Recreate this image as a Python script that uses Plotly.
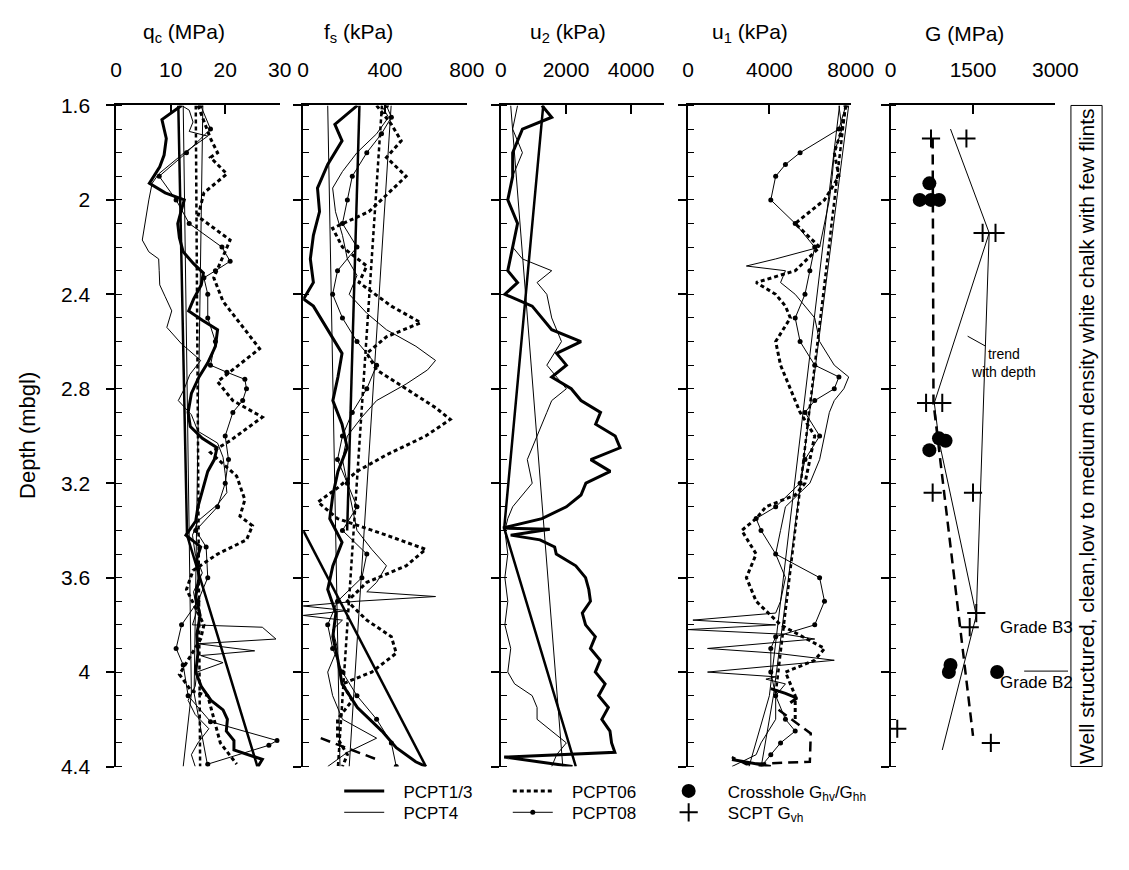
import plotly.graph_objects as go

W, H = 1129, 870
FONT = "Liberation Sans, Arial, sans-serif"


def px(x):
    """page x (pixels) -> paper fraction"""
    return x / W


def py(y):
    """page y (pixels, from top) -> paper fraction"""
    return 1 - y / H


# ---------------- depth axis ----------------
DEPTH_TICKS = [1.6, 2.0, 2.4, 2.8, 3.2, 3.6, 4.0, 4.4]
DEPTH_TICKTEXT = ["1.6", "2", "2.4", "2.8", "3.2", "3.6", "4", "4.4"]

# ---------------- panel 1: cone resistance qc (MPa) ----------------
qc13_d = [1.60, 1.66, 1.74, 1.81, 1.86, 1.93, 1.97, 2.00, 2.04, 2.10, 2.16, 2.22, 2.27, 2.31, 2.36, 2.42, 2.47,
          2.51, 2.55, 2.62, 2.69, 2.75, 2.82, 2.90, 2.96, 3.01, 3.05, 3.10, 3.15, 3.22, 3.30, 3.36, 3.42, 3.47,
          3.52, 3.60, 3.68, 3.76, 3.84, 3.92, 4.00, 4.06, 4.12, 4.16, 4.20, 4.25, 4.29, 4.33, 4.37, 4.40]
qc13 = [12.0, 8.4, 9.2, 8.8, 8.0, 6.1, 9.0, 12.5, 12.0, 11.3, 11.6, 12.3, 14.2, 16.0, 15.6, 14.2, 13.3,
        15.8, 18.6, 18.2, 16.8, 15.2, 13.8, 13.2, 13.6, 15.8, 18.5, 18.0, 16.8, 16.0, 15.0, 14.6, 12.8, 15.5,
        14.8, 15.2, 14.6, 15.4, 14.8, 15.0, 14.6, 15.6, 17.4, 19.6, 20.4, 20.2, 21.6, 21.6, 26.8, 26.0]

qc4_d = [1.60, 1.62, 1.67, 1.71, 1.73, 1.80, 1.89, 1.93, 2.00, 2.08, 2.17, 2.22, 2.25, 2.30, 2.36, 2.41, 2.47,
         2.54, 2.61, 2.68, 2.74, 2.80, 2.85, 2.91, 2.98, 3.03, 3.09, 3.16, 3.24, 3.29, 3.36, 3.42, 3.50, 3.58,
         3.66, 3.74, 3.80, 3.81, 3.86, 3.88, 3.91, 3.93, 3.96, 4.00, 4.06, 4.12, 4.18, 4.24, 4.30, 4.35, 4.40]
qc4 = [12.0, 13.4, 14.1, 13.4, 16.8, 12.5, 7.8, 6.6, 6.0, 5.4, 4.8, 6.0, 7.8, 7.9, 8.0, 9.0, 10.2,
       9.3, 12.0, 15.5, 13.5, 12.5, 11.4, 13.8, 15.0, 18.6, 19.6, 20.0, 20.3, 18.6, 15.0, 14.0, 14.5, 15.8,
       14.2, 14.8, 14.0, 26.8, 29.3, 15.0, 25.4, 15.5, 19.6, 14.8, 14.5, 13.2, 14.5, 17.0, 15.0, 13.8, 14.5]

qc06_d = [1.60, 1.74, 1.80, 1.82, 1.89, 1.97, 2.07, 2.17, 2.33, 2.43, 2.63, 2.77, 2.85, 2.92, 3.02, 3.07,
          3.17, 3.27, 3.34, 3.38, 3.44, 3.50, 3.57, 3.65, 3.80, 3.86, 4.01, 4.08, 4.10, 4.20, 4.30, 4.39]
qc06 = [15.0, 17.3, 18.6, 17.3, 20.3, 16.1, 15.0, 20.9, 17.9, 19.6, 26.3, 18.6, 21.4, 26.8, 20.9, 17.3,
        22.1, 23.6, 22.7, 25.0, 23.9, 18.6, 14.1, 12.9, 16.1, 15.5, 11.6, 13.8, 16.8, 17.9, 19.1, 22.1]

qc08_d = [1.60, 1.70, 1.80, 1.90, 2.00, 2.10, 2.20, 2.26, 2.30, 2.33, 2.40, 2.50, 2.60, 2.70, 2.73, 2.76,
          2.80, 2.85, 2.90, 3.00, 3.10, 3.20, 3.30, 3.40, 3.47, 3.60, 3.70, 3.80, 3.90, 3.97, 4.10, 4.21,
          4.29, 4.31, 4.39]
qc08 = [15.5, 17.3, 12.9, 7.9, 11.0, 13.4, 19.4, 20.9, 18.2, 16.1, 16.8, 16.8, 18.2, 17.3, 20.3, 23.6,
        23.9, 23.2, 21.4, 20.0, 20.6, 20.0, 18.6, 14.6, 16.5, 16.8, 15.0, 12.0, 11.0, 12.3, 13.2, 17.3,
        29.5, 28.0, 16.8]

qc_tr13_d, qc_tr13 = [1.6, 3.42, 4.4], [11.4, 13.0, 25.9]
qc_tr4_d, qc_tr4 = [1.6, 4.09, 4.4], [12.3, 13.8, 12.3]
qc_tr06_d, qc_tr06 = [1.6, 4.4], [14.6, 15.4]
qc_tr08_d, qc_tr08 = [1.6, 4.09, 4.4], [15.9, 14.3, 16.8]

# ---------------- panel 2: sleeve friction fs (kPa) ----------------
fs13_d = [1.60, 1.68, 1.75, 1.85, 1.95, 2.05, 2.15, 2.25, 2.35, 2.40, 2.42, 2.45, 2.55, 2.65, 2.75, 2.85,
          2.95, 3.05, 3.15, 3.25, 3.35, 3.45, 3.55, 3.65, 3.75, 3.85, 3.95, 4.05, 4.15, 4.25, 4.32, 4.38, 4.40]
fs13 = [265, 155, 190, 120, 70, 80, 50, 35, 50, 15, 2, 50, 120, 190, 170, 145,
        190, 215, 170, 145, 130, 190, 145, 120, 160, 145, 170, 190, 265, 385, 455, 550, 600]

fs4_d = [1.60, 1.65, 1.72, 1.80, 1.88, 1.95, 2.05, 2.15, 2.25, 2.32, 2.40, 2.48, 2.55, 2.62, 2.68, 2.72,
         2.78, 2.85, 2.92, 3.00, 3.10, 3.20, 3.30, 3.40, 3.48, 3.55, 3.62, 3.66, 3.68, 3.70, 3.72, 3.74,
         3.76, 3.78, 3.82, 3.90, 4.00, 4.10, 4.20, 4.28, 4.34, 4.40]
fs4 = [383, 417, 359, 263, 192, 144, 158, 192, 216, 263, 225, 311, 407, 551, 647, 608,
       503, 359, 287, 216, 192, 216, 240, 263, 335, 407, 359, 311, 647, 263, 0, 216,
       0, 192, 144, 168, 120, 144, 192, 359, 216, 120]

fs06_d = [1.60, 1.68, 1.75, 1.82, 1.90, 1.96, 2.05, 2.12, 2.20, 2.28, 2.35, 2.45, 2.52, 2.58, 2.65, 2.72,
          2.80, 2.88, 2.93, 3.00, 3.08, 3.15, 3.22, 3.28, 3.35, 3.42, 3.48, 3.55, 3.62, 3.70, 3.78, 3.85,
          3.92, 4.00, 4.05, 4.12, 4.20, 4.28, 4.35, 4.40]
fs06 = [359, 431, 479, 407, 503, 431, 321, 144, 192, 311, 273, 431, 575, 407, 311, 359,
        503, 647, 719, 599, 407, 263, 168, 72, 168, 407, 599, 503, 311, 216, 311, 431,
        455, 335, 192, 240, 168, 168, 216, 192]

fs08_d = [1.60, 1.65, 1.72, 1.80, 1.90, 2.00, 2.10, 2.20, 2.30, 2.40, 2.50, 2.60, 2.70, 2.80, 2.90,
          3.00, 3.10, 3.20, 3.30, 3.40, 3.50, 3.60, 3.70, 3.80, 3.90, 4.00, 4.10, 4.20, 4.30, 4.40]
fs08 = [407, 431, 383, 311, 240, 216, 192, 263, 168, 144, 192, 263, 359, 311, 240,
        192, 168, 216, 263, 192, 311, 287, 168, 120, 144, 192, 263, 359, 431, 455]

fs_tr13_d, fs_tr13 = [1.6, 3.4, None, 3.4, 4.4], [275, 215, None, 0, 600]
fs_tr4_d, fs_tr4 = [1.6, 4.4], [430, 225]
fs_tr06_d, fs_tr06 = [1.6, 4.4], [385, 170]
fs_tr08_d, fs_tr08 = [1.6, 4.4], [120, 180]
fs_dash_d, fs_dash = [4.28, 4.37], [86, 360]

# ---------------- panel 3: pore pressure u2 (kPa) ----------------
u213_d = [1.60, 1.65, 1.70, 1.80, 1.90, 2.00, 2.10, 2.20, 2.30, 2.35, 2.40, 2.45, 2.50, 2.55, 2.60, 2.65,
          2.70, 2.75, 2.80, 2.85, 2.90, 2.95, 3.00, 3.05, 3.10, 3.15, 3.20, 3.25, 3.30, 3.35, 3.39, 3.395,
          3.42, 3.44, 3.47, 3.50, 3.55, 3.60, 3.65, 3.70, 3.75, 3.80, 3.85, 3.90, 3.95, 4.00, 4.05, 4.10,
          4.15, 4.20, 4.25, 4.30, 4.34, 4.36, 4.40]
u213 = [1260, 1560, 660, 360, 360, 210, 510, 360, 210, 510, 120, 960, 1260, 1560, 2460, 1710,
        2010, 1560, 2160, 2460, 3060, 2910, 3510, 3660, 2760, 3360, 2610, 2460, 2010, 1260, 60, 1500,
        300, 1200, 1650, 1700, 2300, 2600, 2700, 2750, 2500, 2600, 2900, 2750, 3050, 2900, 3200, 3000,
        3300, 3100, 3350, 3400, 3500, 100, 2200]

u24_d = [1.60, 1.70, 1.80, 1.90, 2.00, 2.10, 2.20, 2.25, 2.30, 2.35, 2.40, 2.50, 2.60, 2.70, 2.80, 2.85,
         2.90, 3.00, 3.10, 3.20, 3.30, 3.35, 3.40, 3.50, 3.60, 3.70, 3.80, 3.90, 4.00, 4.05, 4.10, 4.15,
         4.20, 4.30, 4.35, 4.40]
u24 = [510, 360, 660, 360, 210, 510, 360, 660, 1560, 1110, 1410, 1560, 1860, 1410, 2010, 1560,
       1410, 1110, 810, 960, 360, 210, 120, 210, 120, 210, 120, 300, 210, 420, 960, 1110,
       1110, 2010, 1710, 1560]

u2_tr13_d, u2_tr13 = [1.6, 3.39, 4.4], [1300, 100, 2300]
u2_tr4_d, u2_tr4 = [1.6, 4.4], [300, 1900]

# ---------------- panel 4: pore pressure u1 (kPa) ----------------
u14_d = [1.60, 1.70, 1.80, 1.90, 2.00, 2.10, 2.20, 2.25, 2.28, 2.30, 2.35, 2.40, 2.50, 2.60, 2.70, 2.75,
         2.80, 2.85, 2.90, 3.00, 3.10, 3.20, 3.30, 3.40, 3.50, 3.60, 3.70, 3.75, 3.78, 3.80, 3.82, 3.84,
         3.86, 3.90, 3.92, 3.95, 3.97, 4.00, 4.02, 4.03, 4.05, 4.10, 4.20, 4.30, 4.35, 4.40]
u14 = [7420, 7570, 7190, 7090, 6950, 6710, 6470, 4310, 2870, 4790, 4550, 5270, 6230, 6470, 7190, 7900,
       7660, 7190, 6950, 6710, 6470, 5990, 4790, 4550, 4310, 4790, 4550, 4310, 240, 4310, 0, 4790,
       6230, 960, 4310, 7190, 4790, 960, 4310, 3830, 4790, 4310, 4310, 3590, 3350, 2160]

u106_d = [1.60, 1.70, 1.80, 1.90, 2.00, 2.10, 2.20, 2.30, 2.35, 2.40, 2.45, 2.50, 2.60, 2.70, 2.75, 2.80,
          2.85, 2.90, 3.00, 3.10, 3.20, 3.25, 3.30, 3.35, 3.40, 3.50, 3.60, 3.70, 3.80, 3.90, 3.95, 4.00,
          4.10, 4.20]
u106 = [7760, 7570, 7190, 7420, 6710, 5270, 6470, 5270, 3350, 4310, 4790, 5030, 4310, 4550, 4790, 5030,
        5270, 5510, 6230, 5990, 5750, 5270, 3830, 3350, 2640, 3350, 2870, 3350, 4550, 6710, 6230, 4790,
        5270, 5270]
u1_loop_d, u1_loop = [4.16, 4.26, 4.38, 4.39, 4.36], [4450, 6035, 5990, 2870, 2155]

u108_d = [1.60, 1.70, 1.80, 1.85, 1.90, 2.00, 2.10, 2.20, 2.30, 2.40, 2.50, 2.60, 2.70, 2.75, 2.80, 2.85,
          2.90, 3.00, 3.10, 3.20, 3.30, 3.35, 3.40, 3.50, 3.60, 3.70, 3.80, 3.85, 3.90, 4.00, 4.10, 4.20,
          4.25, 4.30, 4.35, 4.40]
u108 = [7760, 7420, 5510, 4790, 4310, 4070, 5270, 6230, 5990, 5750, 5270, 5510, 6230, 7420, 7190, 6230,
        5750, 6470, 5750, 5510, 4310, 3350, 3590, 4310, 6470, 6710, 6230, 4310, 4070, 4070, 4310, 4790,
        5270, 4550, 4070, 3590]

u113_d, u113 = [4.07, 4.09, 4.11, 4.13, None, 4.37, 4.40], [4070, 4790, 5360, 5030, None, 2160, 4070]

u1_tr4_d, u1_tr4 = [1.6, 4.1, 4.4], [7450, 4000, 3000]
u1_tr06_d, u1_tr06 = [1.6, 4.1], [7750, 4300]
u1_tr08_d, u1_tr08 = [1.6, 4.1, 4.4], [7900, 4200, 3600]

# ---------------- panel 5: shear modulus G (MPa) ----------------
ch_d = [1.93, 2.00, 2.00, 2.00, 3.01, 3.02, 3.06, 3.97, 4.00, 4.00]
ch_g = [705, 530, 735, 880, 880, 1000, 705, 1090, 1060, 1940]
scpt_d = [1.74, 1.74, 2.14, 2.14, 2.86, 2.86, 3.24, 3.24, 3.75, 3.81, 4.24, 4.30]
scpt_g = [735, 1380, 1675, 1910, 645, 940, 765, 1500, 1560, 1440, 120, 1825]
g_trend_a_d, g_trend_a = [1.70, 2.14, 3.76, 4.33], [1090, 1795, 1560, 940]
g_trend_b_d, g_trend_b = [2.14, 2.86, 3.02, 3.76], [1795, 795, 880, 1560]
g_dash_d, g_dash = [1.74, 2.86, 4.27], [765, 780, 1500]

# ---------------- layout geometry (page pixels) ----------------
PANEL_PX = [(113, 281), (305, 473), (508, 675), (700, 867), (908, 1077)]
X_RANGES = [[0, 30], [0, 800], [0, 5000], [0, 8000], [0, 3000]]
X_TICKS = [[0, 10, 20, 30], [0, 400, 800], [0, 2000, 4000], [0, 4000, 8000], [0, 1500, 3000]]
TITLES = ["q<sub>c</sub> (MPa)", "f<sub>s</sub> (kPa)", "u<sub>2</sub> (kPa)",
          "u<sub>1</sub> (kPa)", "G (MPa)"]
TITLE_X = [183, 362, 577, 764, 984]
Y_TOP, Y_BOT = 96, 775

K = "black"
STYLE = {
    "thick": dict(mode="lines", line=dict(color=K, width=3)),
    "thin": dict(mode="lines", line=dict(color=K, width=1)),
    "dotted": dict(mode="lines", line=dict(color=K, width=3, dash="4px,3px")),
    "dotline": dict(mode="lines+markers", line=dict(color=K, width=1),
                    marker=dict(color=K, size=5, symbol="circle")),
    "trend_thick": dict(mode="lines", line=dict(color=K, width=2.5)),
    "trend_thin": dict(mode="lines", line=dict(color=K, width=1)),
    "trend_dotted": dict(mode="lines", line=dict(color=K, width=2.5, dash="4px,3px")),
    "long_dash": dict(mode="lines", line=dict(color=K, width=2.5, dash="10px,6px")),
}
GAP = "\u00a0\u00a0\u00a0"

# one legend box per key so that the 3 x 2 key grid sits where it should
LEGEND_OF = {"PCPT1/3": "legend", "PCPT4": "legend2", "PCPT06": "legend3",
             "PCPT08": "legend4", "Crosshole": "legend5", "SCPT": "legend6"}

fig = go.Figure()


def axis_ids(i):
    return ("x" if i == 0 else f"x{i + 1}"), ("y" if i == 0 else f"y{i + 1}")


def add(panel, depth, values, style, name=None, show=False):
    xa, ya = axis_ids(panel)
    kw = dict(STYLE[style])
    fig.add_trace(go.Scatter(x=values, y=depth, xaxis=xa, yaxis=ya,
                             name=(GAP + name) if name else None,
                             legendgroup=name, showlegend=show,
                             legend=LEGEND_OF.get(name, "legend"), connectgaps=False,
                             hoverinfo="skip", **kw))


# panel 1
add(0, qc_tr13_d, qc_tr13, "trend_thick")
add(0, qc_tr4_d, qc_tr4, "trend_thin")
add(0, qc_tr06_d, qc_tr06, "trend_dotted")
add(0, qc_tr08_d, qc_tr08, "trend_thin")
add(0, qc4_d, qc4, "thin", "PCPT4", True)
add(0, qc06_d, qc06, "dotted", "PCPT06", True)
add(0, qc08_d, qc08, "dotline", "PCPT08", True)
add(0, qc13_d, qc13, "thick", "PCPT1/3", True)

# panel 2
add(1, fs_tr13_d, fs_tr13, "trend_thick")
add(1, fs_tr4_d, fs_tr4, "trend_thin")
add(1, fs_tr06_d, fs_tr06, "trend_dotted")
add(1, fs_tr08_d, fs_tr08, "trend_thin")
add(1, fs4_d, fs4, "thin", "PCPT4")
add(1, fs06_d, fs06, "dotted", "PCPT06")
add(1, fs_dash_d, fs_dash, "long_dash")
add(1, fs08_d, fs08, "dotline", "PCPT08")
add(1, fs13_d, fs13, "thick", "PCPT1/3")

# panel 3
add(2, u2_tr13_d, u2_tr13, "trend_thick")
add(2, u2_tr4_d, u2_tr4, "trend_thin")
add(2, u24_d, u24, "thin", "PCPT4")
add(2, u213_d, u213, "thick", "PCPT1/3")

# panel 4
add(3, u1_tr4_d, u1_tr4, "trend_thin")
add(3, u1_tr06_d, u1_tr06, "trend_dotted")
add(3, u1_tr08_d, u1_tr08, "trend_thin")
add(3, u14_d, u14, "thin", "PCPT4")
add(3, u106_d, u106, "dotted", "PCPT06")
add(3, u1_loop_d, u1_loop, "long_dash")
add(3, u108_d, u108, "dotline", "PCPT08")
add(3, u113_d, u113, "thick", "PCPT1/3")

# panel 5
add(4, g_trend_a_d, g_trend_a, "trend_thin")
add(4, g_trend_b_d, g_trend_b, "trend_thin")
add(4, g_dash_d, g_dash, "long_dash")
fig.add_trace(go.Scatter(x=ch_g, y=ch_d, xaxis="x5", yaxis="y5", mode="markers",
                         name=GAP + "Crosshole G<sub>hv</sub>/G<sub>hh</sub>",
                         legend=LEGEND_OF["Crosshole"],
                         marker=dict(symbol="circle", size=14, color=K), hoverinfo="skip"))
fig.add_trace(go.Scatter(x=scpt_g, y=scpt_d, xaxis="x5", yaxis="y5", mode="markers",
                         name=GAP + "SCPT G<sub>vh</sub>", legend=LEGEND_OF["SCPT"],
                         marker=dict(symbol="cross-thin", size=13, color=K,
                                     line=dict(color=K, width=2)), hoverinfo="skip"))

layout = dict(
    width=W, height=H, margin=dict(l=0, r=0, t=0, b=0),
    paper_bgcolor="white", plot_bgcolor="white",
    font=dict(family=FONT, color=K, size=20),
)
yd = [py(Y_BOT), py(Y_TOP)]
for i, (a, b) in enumerate(PANEL_PX):
    xa, ya = axis_ids(i)
    xkey = "xaxis" if i == 0 else f"xaxis{i + 1}"
    ykey = "yaxis" if i == 0 else f"yaxis{i + 1}"
    layout[xkey] = dict(domain=[px(a), px(b)], range=X_RANGES[i], side="top", anchor=ya,
                        tickmode="array", tickvals=X_TICKS[i], ticks="inside", ticklen=9,
                        tickwidth=1.5, tickcolor=K, showline=True, linewidth=2, linecolor=K,
                        showgrid=False, zeroline=False, ticklabelstandoff=18,
                        tickfont=dict(size=21, family=FONT, color=K))
    layout[ykey] = dict(domain=yd, range=[4.4, 1.6], anchor=xa,
                        tickmode="array", tickvals=DEPTH_TICKS, ticktext=DEPTH_TICKTEXT,
                        ticks="outside", ticklen=8, tickwidth=1.5, tickcolor=K,
                        showline=True, linewidth=1.5, linecolor=K,
                        showgrid=False, zeroline=False, showticklabels=(i == 0),
                        ticklabelstandoff=12,
                        minor=dict(tickmode="linear", tick0=1.6, dtick=0.1, ticks="inside",
                                   ticklen=6, tickwidth=1, tickcolor=K, showgrid=False),
                        tickfont=dict(size=21, family=FONT, color=K))
    if i > 0:
        layout[ykey]["matches"] = "y"

legend_common = dict(bgcolor="rgba(0,0,0,0)", borderwidth=0, itemwidth=40, tracegroupgap=0,
                     font=dict(size=17, family=FONT, color=K), xanchor="left", yanchor="top",
                     orientation="v", itemclick=False, itemdoubleclick=False)
ROW1, ROW2 = 782, 804
layout["legend"] = dict(x=px(342), y=py(ROW1), **legend_common)
layout["legend2"] = dict(x=px(342), y=py(ROW2), **legend_common)
layout["legend3"] = dict(x=px(515), y=py(ROW1), **legend_common)
layout["legend4"] = dict(x=px(515), y=py(ROW2), **legend_common)
layout["legend5"] = dict(x=px(675), y=py(ROW1), **legend_common)
layout["legend6"] = dict(x=px(675), y=py(ROW2), **legend_common)

annotations = []
for t, xc in zip(TITLES, TITLE_X):
    annotations.append(dict(text=t, x=px(xc), y=py(22), xref="paper", yref="paper",
                            showarrow=False, font=dict(size=21, family=FONT, color=K),
                            xanchor="center", yanchor="middle"))
annotations.append(dict(text="Depth (mbgl)", x=px(22), y=py(435), xref="paper", yref="paper",
                        showarrow=False, textangle=-90, font=dict(size=22, family=FONT, color=K),
                        xanchor="center", yanchor="middle"))
annotations.append(dict(text="Well structured, clean,low to medium density white chalk with few flints",
                        x=px(1109), y=py(436), xref="paper", yref="paper", showarrow=False,
                        textangle=-90, font=dict(size=21, family=FONT, color=K),
                        xanchor="center", yanchor="middle"))
annotations.append(dict(text="trend<br>with depth", x=px(1024), y=py(361), xref="paper",
                        yref="paper", showarrow=False, align="center",
                        font=dict(size=14, family=FONT, color=K), xanchor="center", yanchor="middle"))
annotations.append(dict(text="Grade B3", x=px(1058), y=py(632), xref="paper", yref="paper",
                        showarrow=False, font=dict(size=17, family=FONT, color=K),
                        xanchor="center", yanchor="middle"))
annotations.append(dict(text="Grade B2", x=px(1058), y=py(689), xref="paper", yref="paper",
                        showarrow=False, font=dict(size=17, family=FONT, color=K),
                        xanchor="center", yanchor="middle"))
layout["annotations"] = annotations

layout["shapes"] = [
    dict(type="rect", xref="paper", yref="paper", x0=px(1093), x1=px(1125),
         y0=py(Y_BOT), y1=py(Y_TOP), line=dict(color=K, width=1)),
    dict(type="line", xref="paper", yref="paper", x0=px(987), x1=px(1005),
         y0=py(333), y1=py(343), line=dict(color=K, width=1)),
    dict(type="line", xref="paper", yref="paper", x0=px(1045), x1=px(1090),
         y0=py(677), y1=py(677), line=dict(color=K, width=1)),
]

fig.update_layout(**layout)
fig.write_html("out.html")
